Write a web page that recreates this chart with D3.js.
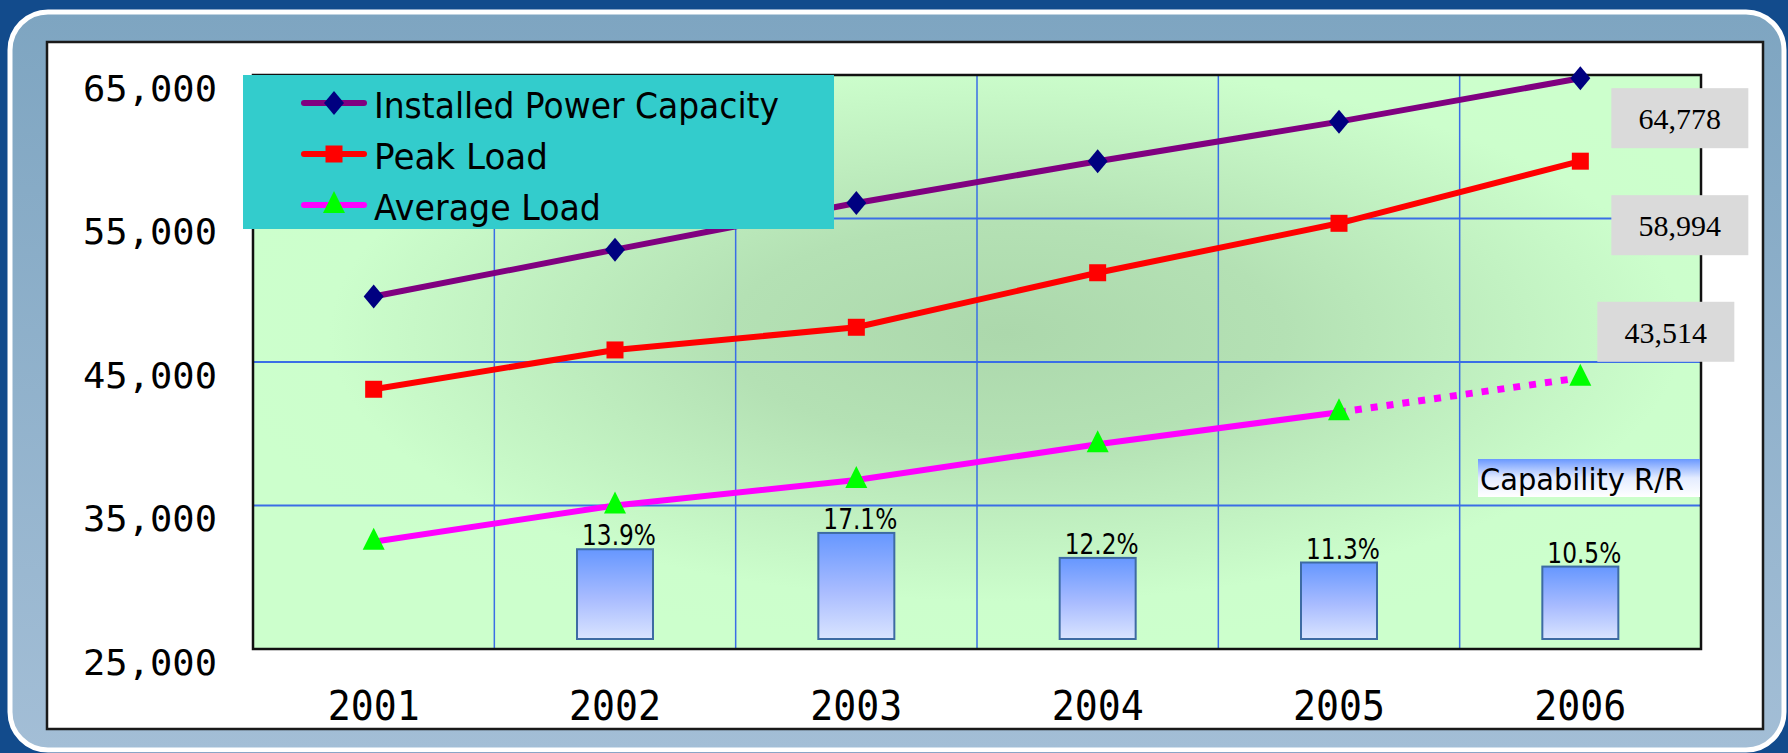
<!DOCTYPE html>
<html>
<head>
<meta charset="utf-8">
<script src="https://cdn.jsdelivr.net/npm/d3@7"></script>
<style>
  html, body { margin: 0; padding: 0; background: #124b8c; overflow: hidden; }
  svg { display: block; }
</style>
</head>
<body>
<svg id="chart" width="1788" height="753"></svg>
<script>
// values
const years = ['2001', '2002', '2003', '2004', '2005', '2006'];
const capacity = [49560, 52830, 56080, 58990, 61750, 64778];
const peakLoad = [43100, 45840, 47420, 51220, 54665, 58994];
const averageLoad = [32480, 35000, 36780, 39265, 41500, 43900];
const averageProjectedFrom = 4;   // 2005 -> 2006 is dotted

const reserveYears = ['2002', '2003', '2004', '2005', '2006'];
const reserveRatio = [13.9, 17.1, 12.2, 11.3, 10.5];

const yTicks = [25000, 35000, 45000, 55000, 65000];
const endLabels = ['64,778', '58,994', '43,514'];
const seriesNames = ['Installed Power Capacity', 'Peak Load', 'Average Load'];

const plot = {left: 253, top: 75, right: 1701, bottom: 649};
const monoFont = '"DejaVu Sans Mono", monospace';
const sansFont = '"DejaVu Sans", sans-serif';

const svg = d3.select('#chart');
const defs = svg.append('defs');

function linearGrad(id, stops) {
  const g = defs.append('linearGradient').attr('id', id)
      .attr('x1', 0).attr('y1', 0).attr('x2', 0).attr('y2', 1);
  stops.forEach(s => g.append('stop').attr('offset', s[0]).attr('stop-color', s[1]));
}
linearGrad('panelGrad', [[0, '#7ea5c1'], [1, '#a3bed6']]);
linearGrad('barGrad', [[0, '#6697ff'], [0.55, '#a9bcff'], [1, '#d9e4ff']]);
linearGrad('capGrad', [[0, '#6a98ff'], [0.5, '#e4ecff'], [1, '#ffffff']]);

const rg = defs.append('radialGradient').attr('id', 'plotGrad')
    .attr('cx', 0.52).attr('cy', 0.45).attr('r', 0.55);
[[0, '#acd8ac'], [0.35, '#b4e1b4'], [0.85, '#ccfecc'], [1, '#ccffcc']]
    .forEach(s => rg.append('stop').attr('offset', s[0]).attr('stop-color', s[1]));

// frame
svg.append('rect').attr('width', 1788).attr('height', 753).attr('fill', '#124b8c');
svg.append('rect').attr('x', 10).attr('y', 12).attr('width', 1774).attr('height', 738)
    .attr('rx', 38).attr('fill', 'url(#panelGrad)').attr('stroke', '#fff').attr('stroke-width', 5);
svg.append('rect').attr('x', 47).attr('y', 42).attr('width', 1716).attr('height', 687)
    .attr('fill', '#fff').attr('stroke', '#1a1a1a').attr('stroke-width', 2.5);

// scales
const x = d3.scaleBand().domain(years).range([plot.left, plot.right]).padding(0);
const cx = d => x(d) + x.bandwidth() / 2;
const y = d3.scaleLinear().domain([25000, 65000]).range([plot.bottom, plot.top]);
const rr = d3.scaleLinear().domain([-3.7, 20]).range([639, 639 - 5.1 * 23.7]);

// plot background + grid
svg.append('rect').attr('x', plot.left).attr('y', plot.top)
    .attr('width', plot.right - plot.left).attr('height', plot.bottom - plot.top)
    .attr('fill', 'url(#plotGrad)');

svg.append('g').selectAll('line').data(yTicks.slice(1, -1)).join('line')
    .attr('x1', plot.left).attr('x2', plot.right)
    .attr('y1', d => y(d)).attr('y2', d => y(d))
    .attr('stroke', '#3a6ee6').attr('stroke-width', 2);
svg.append('g').selectAll('line').data(years.slice(1)).join('line')
    .attr('x1', d => x(d)).attr('x2', d => x(d))
    .attr('y1', plot.top).attr('y2', plot.bottom)
    .attr('stroke', '#3a6ee6').attr('stroke-width', 1.5);

svg.append('rect').attr('x', plot.left).attr('y', plot.top)
    .attr('width', plot.right - plot.left).attr('height', plot.bottom - plot.top)
    .attr('fill', 'none').attr('stroke', '#111').attr('stroke-width', 2.5);

// reserve ratio bars
const barW = 76;
svg.append('g').selectAll('rect').data(reserveYears).join('rect')
    .attr('x', d => cx(d) - barW / 2)
    .attr('width', barW)
    .attr('y', (d, i) => rr(reserveRatio[i]))
    .attr('height', (d, i) => rr.range()[0] - rr(reserveRatio[i]))
    .attr('fill', 'url(#barGrad)').attr('stroke', '#3d6ba3').attr('stroke-width', 2);

svg.append('g').selectAll('text').data(reserveYears).join('text')
    .attr('x', d => cx(d) + 4)
    .attr('y', (d, i) => rr(reserveRatio[i]) - 4)
    .attr('text-anchor', 'middle')
    .attr('font-family', sansFont).attr('font-size', 29)
    .attr('textLength', 74).attr('lengthAdjust', 'spacingAndGlyphs')
    .text((d, i) => reserveRatio[i].toFixed(1) + '%');

// lines
const markers = {
  diamond: 'M0,-12L10,0L0,12L-10,0Z',
  square: 'M-8.5,-8.5h17v17h-17Z',
  triangle: 'M0,-14L11,8L-11,8Z'
};
const series = [
  {name: seriesNames[0], values: capacity, line: '#800080', marker: 'diamond', fill: '#000080'},
  {name: seriesNames[1], values: peakLoad, line: '#ff0000', marker: 'square', fill: '#ff0000'},
  {name: seriesNames[2], values: averageLoad, line: '#ff00ff', marker: 'triangle', fill: '#00ff00'}
];

const line = d3.line().x(d => cx(d.year)).y(d => y(d.value));

series.forEach(s => {
  const pts = s.values.map((v, i) => ({year: years[i], value: v}));
  const solid = s.marker === 'triangle' ? pts.slice(0, averageProjectedFrom + 1) : pts;
  svg.append('path').attr('d', line(solid))
      .attr('fill', 'none').attr('stroke', s.line).attr('stroke-width', 6);
  if (s.marker === 'triangle') {
    svg.append('path').attr('d', line(pts.slice(averageProjectedFrom)))
        .attr('fill', 'none').attr('stroke', s.line).attr('stroke-width', 7)
        .attr('stroke-dasharray', '7,9');
  }
  svg.append('g').selectAll('path').data(pts).join('path')
      .attr('d', markers[s.marker])
      .attr('transform', d => `translate(${cx(d.year)},${y(d.value)})`)
      .attr('fill', s.fill);
});

// legend
const legend = svg.append('g');
legend.append('rect').attr('x', 243).attr('y', 75).attr('width', 591).attr('height', 154)
    .attr('fill', '#33cccc');
const legendRowY = [103, 154, 205];
const legendTextLen = [405, 174, 227];
series.forEach((s, i) => {
  const row = legend.append('g').attr('transform', `translate(0,${legendRowY[i]})`);
  row.append('line').attr('x1', 304).attr('x2', 364)
      .attr('stroke', s.line).attr('stroke-width', 6).attr('stroke-linecap', 'round');
  row.append('path').attr('d', markers[s.marker])
      .attr('transform', 'translate(334,0)').attr('fill', s.fill);
  row.append('text').attr('x', 374).attr('y', 15)
      .attr('font-family', sansFont).attr('font-size', 35)
      .attr('textLength', legendTextLen[i]).attr('lengthAdjust', 'spacingAndGlyphs')
      .text(s.name);
});

// value boxes at 2006
const boxPlace = [{dx: 31, dy: 40}, {dx: 31, dy: 64}, {dx: 17, dy: -46}];
const last = years.length - 1;
series.forEach((s, i) => {
  const bx = cx(years[last]) + boxPlace[i].dx;
  const by = y(s.values[last]) + boxPlace[i].dy;
  svg.append('rect').attr('x', bx).attr('y', by - 30).attr('width', 137).attr('height', 60)
      .attr('fill', '#dadada');
  svg.append('text').attr('x', bx + 68.5).attr('y', by + 11)
      .attr('text-anchor', 'middle')
      .attr('font-family', '"Liberation Serif", serif').attr('font-size', 30)
      .text(endLabels[i]);
});

// capability R/R tag
svg.append('rect').attr('x', 1478).attr('y', 459).attr('width', 222).attr('height', 38)
    .attr('fill', 'url(#capGrad)');
svg.append('text').attr('x', 1480).attr('y', 490)
    .attr('font-family', sansFont).attr('font-size', 30)
    .attr('textLength', 204).attr('lengthAdjust', 'spacingAndGlyphs')
    .text('Capability R/R');

// axes
svg.append('g').attr('transform', `translate(${plot.left},0)`)
    .call(d3.axisLeft(y).tickValues(yTicks).tickFormat(d3.format(',')).tickSize(0).tickPadding(36))
    .call(g => g.select('.domain').remove())
    .selectAll('text')
    .attr('dy', 25).attr('fill', '#000')
    .attr('font-family', monoFont).attr('font-size', 35)
    .attr('textLength', 134).attr('lengthAdjust', 'spacingAndGlyphs');

svg.append('g').attr('transform', `translate(0,${plot.bottom})`)
    .call(d3.axisBottom(x).tickSize(0))
    .call(g => g.select('.domain').remove())
    .selectAll('text')
    .attr('y', 71).attr('dy', 0).attr('fill', '#000')
    .attr('font-family', monoFont).attr('font-size', 40)
    .attr('textLength', 92).attr('lengthAdjust', 'spacingAndGlyphs');
</script>
</body>
</html>
